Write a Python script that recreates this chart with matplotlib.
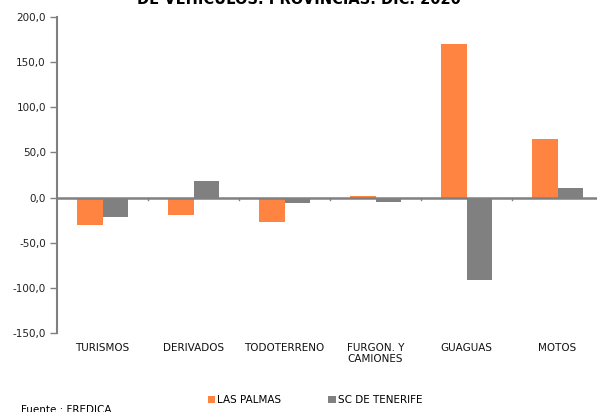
import matplotlib.pyplot as plt
import numpy as np

categorias = ['TURISMOS', 'DERIVADOS', 'TODOTERRENO', 'FURGON. Y\nCAMIONES', 'GUAGUAS', 'MOTOS']
las_palmas = [-30.0, -19.0, -27.0, 1.5, 170.0, 65.0]
sc_tenerife = [-22.0, 18.0, -6.0, -5.0, -91.0, 11.0]
yticks = [-150, -100, -50, 0, 50, 100, 150, 200]

naranja = '#FF8442'
gris = '#808080'

fig = plt.figure(figsize=(5.97, 4.12), dpi=100)
ax = fig.add_axes([57/597, 1 - 333/412, 546/597, 316/412])

x = np.arange(len(categorias))
w = 0.285
ax.bar(x - w/2, las_palmas, w, color=naranja, label='LAS PALMAS')
ax.bar(x + w/2, sc_tenerife, w, color=gris, label='SC DE TENERIFE')

ax.set_xlim(-0.5, len(categorias) - 0.5)
ax.set_ylim(-150, 200)
ax.set_yticks(yticks)
ax.set_yticklabels([f'{v:.1f}'.replace('.', ',') for v in yticks], fontsize=7.5, color='#222222')
ax.tick_params(axis='y', length=5, color=gris, width=1, pad=3)

for s in ['top', 'right', 'bottom']:
    ax.spines[s].set_visible(False)
ax.spines['left'].set_color(gris)
ax.spines['left'].set_linewidth(1.5)

# linea del cero y marcas entre categorias
ax.axhline(0, color=gris, lw=1.8, zorder=3)
ax.set_xticks([])
for b in np.arange(0.5, len(categorias) - 1, 1.0):
    ax.plot([b, b], [0, -3], color=gris, lw=1, clip_on=False)

for i, c in enumerate(categorias):
    ax.text(i, -161, c, ha='center', va='top', fontsize=7.5, color='#111111', linespacing=1.1)

# titulo cortado arriba como en el original
fig.text(0.5, 1.0 - 7.5/412, 'EVOLUCIÓN ANUAL DE LA MATRICULACIÓN\nDE VEHÍCULOS. PROVINCIAS. DIC. 2020',
         ha='center', va='bottom', fontsize=10.5, fontweight='bold', linespacing=1.25)

ax.legend(loc='center', bbox_to_anchor=(315/597, 1 - 400/412), bbox_transform=fig.transFigure,
          ncol=2, frameon=False, fontsize=7.5, handlelength=0.7, handleheight=0.7,
          handletextpad=0.2, columnspacing=4.5)

fig.text(21/597, 1 - 410/412, 'Fuente : FREDICA', fontsize=7.5, va='center')

fig.savefig('out.png', dpi=100)
